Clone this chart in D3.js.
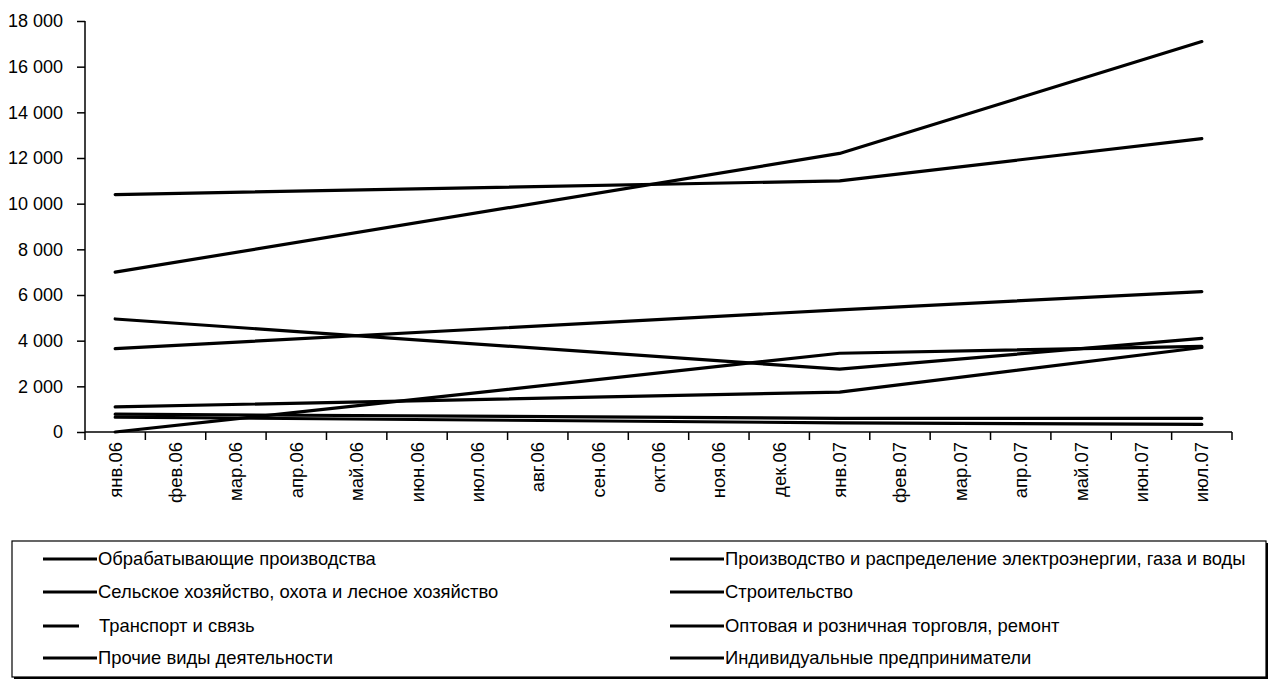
<!DOCTYPE html>
<html>
<head>
<meta charset="utf-8">
<script src="https://cdn.jsdelivr.net/npm/d3@7"></script>
<style>
  html, body { margin: 0; padding: 0; background: #fff; }
  svg { display: block; font-family: "Liberation Sans", Arial, sans-serif; }
</style>
</head>
<body>
<svg id="chart" width="1271" height="680"></svg>
<script>
// Months on the category axis
const months = ["янв.06","фев.06","мар.06","апр.06","май.06","июн.06","июл.06","авг.06","сен.06",
                "окт.06","ноя.06","дек.06","янв.07","фев.07","мар.07","апр.07","май.07","июн.07","июл.07"];

// Series names (legend order)
const seriesNames = [
  "Обрабатывающие производства",
  "Производство и распределение электроэнергии, газа и воды",
  "Сельское хозяйство, охота и лесное хозяйство",
  "Строительство",
  "Транспорт и связь",
  "Оптовая и розничная торговля, ремонт",
  "Прочие виды деятельности",
  "Индивидуальные предприниматели"
];

// Observations: janv.06, janv.07, jul.07 (other months are empty cells)
const obrabat   = [10400, null, null, null, null, null, null, null, null, null, null, null, 11000, null, null, null, null, null, 12850];
const energy    = [3650,  null, null, null, null, null, null, null, null, null, null, null, 5350,  null, null, null, null, null, 6150];
const selhoz    = [4950,  null, null, null, null, null, null, null, null, null, null, null, 2750,  null, null, null, null, null, 4100];
const stroit    = [0,     null, null, null, null, null, null, null, null, null, null, null, 3450,  null, null, null, null, null, 3750];
const transport = [1100,  null, null, null, null, null, null, null, null, null, null, null, 1750,  null, null, null, null, null, 3700];
const torgovlya = [7000,  null, null, null, null, null, null, null, null, null, null, null, 12200, null, null, null, null, null, 17100];
const prochie   = [780,   null, null, null, null, null, null, null, null, null, null, null, 600,   null, null, null, null, null, 600];
const ip        = [650,   null, null, null, null, null, null, null, null, null, null, null, 400,   null, null, null, null, null, 330];

const seriesValues = [obrabat, energy, selhoz, stroit, transport, torgovlya, prochie, ip];

// Value axis ticks
const yTicks = [0, 2000, 4000, 6000, 8000, 10000, 12000, 14000, 16000, 18000];

const svg = d3.select("#chart");

const plot = { left: 85, right: 1232, top: 21, bottom: 432 };

const x = d3.scaleBand().domain(months).range([plot.left, plot.right]).padding(0);
const y = d3.scaleLinear().domain([0, 18000]).range([plot.bottom, plot.top]);

const ru = d3.formatLocale({ decimal: ",", thousands: " ", grouping: [3], currency: ["", ""] });
const fmt = ru.format(",d");

// Y axis
const yAxis = svg.append("g")
  .attr("transform", `translate(${plot.left},0)`)
  .call(d3.axisLeft(y).tickValues(yTicks).tickFormat(fmt).tickSize(8).tickPadding(14));
yAxis.select(".domain").attr("stroke", "#000").attr("stroke-width", 1.5).attr("d", `M0,${plot.top}V${plot.bottom}`);
yAxis.selectAll(".tick line").attr("stroke", "#000").attr("stroke-width", 1.5);
yAxis.selectAll(".tick text").attr("font-size", 18).attr("fill", "#000")
  .attr("font-family", "'Liberation Sans', Arial, sans-serif");

// X axis line with ticks at category boundaries
const xg = svg.append("g");
xg.append("line")
  .attr("x1", plot.left).attr("x2", plot.right)
  .attr("y1", plot.bottom).attr("y2", plot.bottom)
  .attr("stroke", "#000").attr("stroke-width", 1.5);
const bounds = months.map(m => x(m)).concat([x(months[months.length - 1]) + x.bandwidth()]);
xg.selectAll("line.tk").data(bounds).join("line")
  .attr("class", "tk")
  .attr("x1", d => d).attr("x2", d => d)
  .attr("y1", plot.bottom).attr("y2", plot.bottom + 8)
  .attr("stroke", "#000").attr("stroke-width", 1.5);
xg.selectAll("text").data(months).join("text")
  .attr("transform", d => `translate(${x(d) + x.bandwidth() / 2},${plot.bottom + 10}) rotate(-90)`)
  .attr("text-anchor", "end")
  .attr("dy", "0.35em")
  .attr("font-size", 18.5)
  .attr("fill", "#000")
  .text(d => d);

// Series lines (empty cells are skipped, neighbouring points connected)
const line = d3.line()
  .x(d => x(d.m) + x.bandwidth() / 2)
  .y(d => y(d.v));

svg.append("g").selectAll("path").data(seriesValues).join("path")
  .attr("d", vals => line(vals.map((v, i) => ({ m: months[i], v })).filter(p => p.v !== null)))
  .attr("fill", "none")
  .attr("stroke", "#000")
  .attr("stroke-width", 3.2)
  .attr("stroke-linejoin", "round")
  .attr("stroke-linecap", "round");

// Legend
const lg = svg.append("g");
lg.append("rect").attr("x", 14).attr("y", 543).attr("width", 1254).attr("height", 136)
  .attr("fill", "#000");
lg.append("rect").attr("x", 12).attr("y", 541).attr("width", 1254).attr("height", 136)
  .attr("fill", "#fff").attr("stroke", "#000").attr("stroke-width", 1.2);

const rowY = [559, 592, 626, 658];
const colX = [43, 670];
seriesNames.forEach((name, i) => {
  const col = i % 2, row = Math.floor(i / 2);
  const sx = colX[col];
  const short = name === "Транспорт и связь";
  const swEnd = short ? sx + 36 : sx + 54;
  const tx = short ? sx + 56 : sx + 55;
  lg.append("line")
    .attr("x1", sx).attr("x2", swEnd)
    .attr("y1", rowY[row]).attr("y2", rowY[row])
    .attr("stroke", "#000").attr("stroke-width", 3);
  lg.append("text")
    .attr("x", tx).attr("y", rowY[row])
    .attr("dy", "0.35em")
    .attr("font-size", 18.4)
    .attr("fill", "#000")
    .text(name);
});
</script>
</body>
</html>
